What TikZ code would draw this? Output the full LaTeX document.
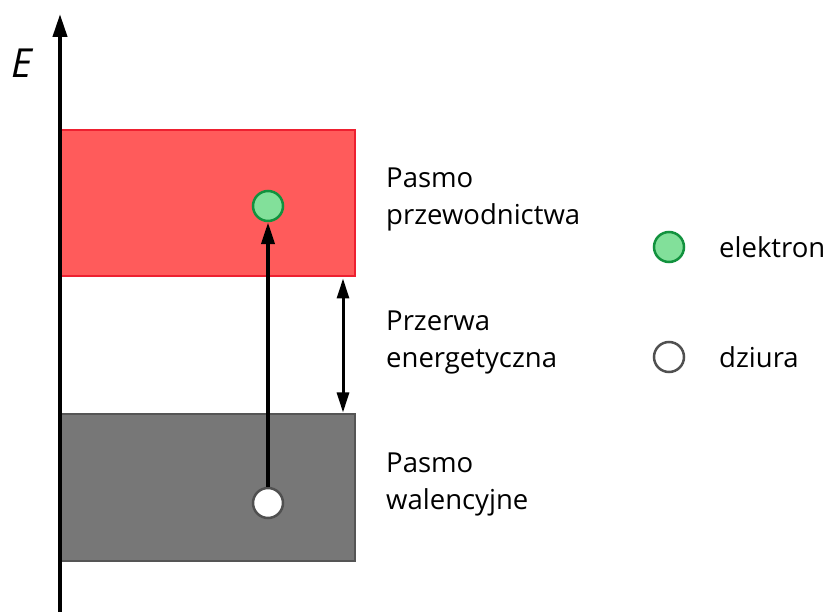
\documentclass[tikz,border=0pt]{standalone}
\usepackage{fontspec}
\setmainfont{Open Sans}
\usetikzlibrary{arrows.meta,calc}
\definecolor{cbfill}{HTML}{FF5B5B}
\definecolor{cbedge}{HTML}{EE2030}
\definecolor{vbfill}{HTML}{777777}
\definecolor{vbedge}{HTML}{555555}
\definecolor{elfill}{HTML}{82E09A}
\definecolor{eledge}{HTML}{12923E}
\definecolor{hoedge}{HTML}{505050}
\begin{document}
\begin{tikzpicture}[x=1pt,y=-1pt,
  band/.style={draw, line width=2pt, minimum width=296pt, minimum height=146pt, inner sep=0pt},
  electron/.style={circle, draw=eledge, fill=elfill, line width=2.5pt, minimum size=30pt, inner sep=0pt},
  hole/.style={circle, draw=hoedge, fill=white, line width=2.5pt, minimum size=30pt, inner sep=0pt},
  label/.style={anchor=west, align=left, font=\fontsize{27.5}{37}\selectfont, inner sep=0pt},
  arr/.style={line width=4pt, -{Triangle[length=22pt,width=13pt]}},
  gaparr/.style={line width=3pt, {Triangle[length=20pt,width=12pt]}-{Triangle[length=20pt,width=12pt]}}
]
\useasboundingbox (0,0) rectangle (828,612);

% energy bands
\node[band, draw=cbedge, fill=cbfill] (cb) at (207,203.5) {};
\node[band, draw=vbedge, fill=vbfill] (vb) at (207,487.5) {};

% energy axis
\coordinate (axbot) at (60,612);
\coordinate (axtop) at (60,14);
\draw[line width=4pt, -{Triangle[length=23pt,width=14pt]}] (axbot) -- (axtop);
\node[font=\fontsize{40}{40}\selectfont\itshape, inner sep=0pt] (E) at (22,63) {E};

% carriers and excitation
\node[electron] (el) at (268,206) {};
\node[hole] (ho) at (268,503) {};
\draw[arr] (ho.north) -- (el.south);

% band gap
\coordinate (gtop) at ($(cb.south east)+(-13,1)$);
\coordinate (gbot) at ($(vb.north east)+(-13,-1)$);
\draw[gaparr] (gtop) -- (gbot);

% band labels
\node[label] (lcb) at (386,199) {Pasmo\\przewodnictwa};
\node[label] (lgap) at (386,342) {Przerwa\\energetyczna};
\node[label] (lvb) at (386,484) {Pasmo\\walencyjne};

% legend
\node[electron] (lel) at (669,247) {};
\node[hole] (lho) at (669,357) {};
\node[label] (tel) at (719,247) {elektron};
\node[label] (tho) at (719,357) {dziura};
\end{tikzpicture}
\end{document}
